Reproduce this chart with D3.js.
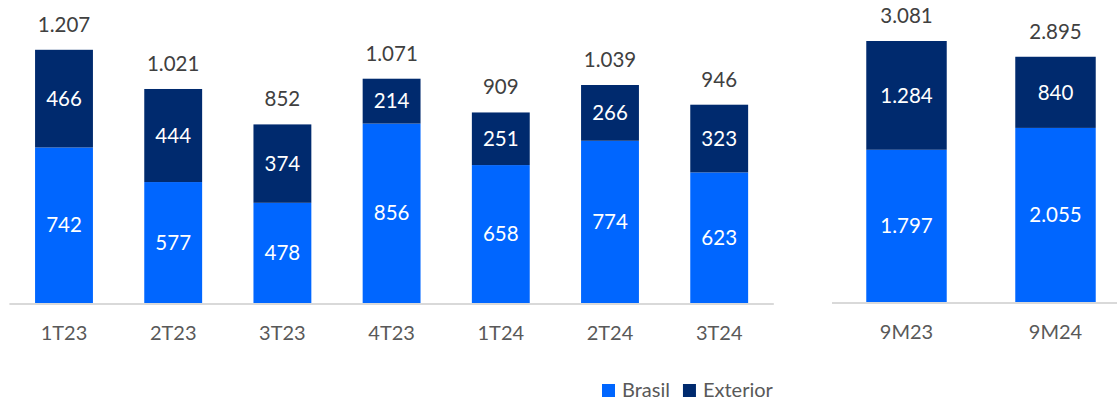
<!DOCTYPE html>
<html><head><meta charset="utf-8">
<script src="https://cdn.jsdelivr.net/npm/d3@7"></script>
<style>body{margin:0;background:#fff}svg{display:block}</style>
</head><body>
<svg id="c" width="1117" height="400"></svg>
<script>
const quarters = ["1T23","2T23","3T23","4T23","1T24","2T24","3T24"];
const brasilQ = [742,577,478,856,658,774,623];
const exteriorQ = [466,444,374,214,251,266,323];
const totalQ = [1207,1021,852,1071,909,1039,946];
const periods = ["9M23","9M24"];
const brasilP = [1797,2055];
const exteriorP = [1284,840];
const totalP = [3081,2895];
const seriesNames = ["Brasil","Exterior"];
const colors = ["#0066FF","#002A6E"];

const svg = d3.select("#c");
const font = "Lato, 'Noto Sans', sans-serif";
const fmt = d3.formatLocale({decimal:",",thousands:".",grouping:[3],currency:["R$",""]}).format(",d");

function panel(cats, br, ex, tot, x0, x1, yBase, yTopVal, yTopPx, pad) {
  const x = d3.scaleBand().domain(cats).range([x0,x1]).paddingInner(pad).paddingOuter(pad/2);
  const y = d3.scaleLinear().domain([0,yTopVal]).range([yBase,yTopPx]);
  const g = svg.append("g");
  g.append("line").attr("x1",x0).attr("x2",Math.min(x1,1117)).attr("y1",yBase+1).attr("y2",yBase+1)
    .attr("stroke","#d9d9d9").attr("stroke-width",2);
  cats.forEach((c,i)=>{
    const segs = [[0,br[i],colors[0]],[br[i],br[i]+ex[i],colors[1]]];
    segs.forEach(([a,b,col],k)=>{
      g.append("rect").attr("x",x(c)).attr("width",x.bandwidth())
        .attr("y",y(b)).attr("height",y(a)-y(b)).attr("fill",col);
      g.append("text").attr("x",x(c)+x.bandwidth()/2).attr("y",(y(a)+y(b))/2)
        .attr("dy","0.35em").attr("text-anchor","middle").attr("fill","#fff")
        .style("font",`20.5px ${font}`).text(fmt(k===0?br[i]:ex[i]));
    });
    g.append("text").attr("x",x(c)+x.bandwidth()/2).attr("y",y(tot[i])-18)
      .attr("text-anchor","middle").attr("fill","#404040")
      .style("font",`20.5px ${font}`).text(fmt(tot[i]));
  });
  const ax = g.append("g").attr("transform",`translate(0,${yBase})`)
    .call(d3.axisBottom(x).tickSize(0).tickPadding(23));
  ax.select(".domain").remove();
  ax.selectAll("text").attr("fill","#595959").style("font",`20px ${font}`);
}

panel(quarters, brasilQ, exteriorQ, totalQ, 9.4, 773.8, 303, 1207, 50, 0.47);
panel(periods, brasilP, exteriorP, totalP, 832, 1130, 302, 3081, 41, 0.46);

// legend
const leg = svg.append("g").attr("transform","translate(602,382)");
let lx = 0;
seriesNames.forEach((n,i)=>{
  const it = leg.append("g").attr("transform",`translate(${lx},0)`);
  it.append("rect").attr("y",2).attr("width",13).attr("height",13).attr("fill",colors[i]);
  const t = it.append("text").attr("x",20).attr("y",15).attr("fill","#595959")
    .style("font",`20px ${font}`).text(n);
  lx += 20 + t.node().getComputedTextLength() + 13;
});
</script>
</body></html>
